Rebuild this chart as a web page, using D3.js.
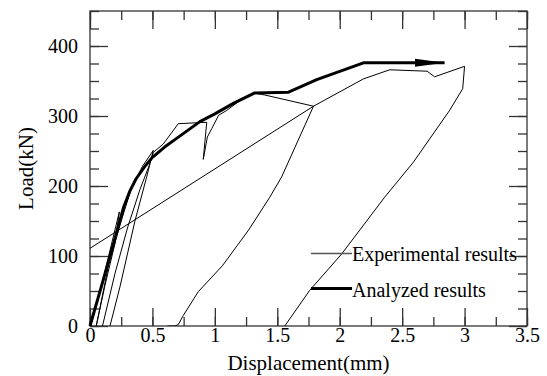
<!DOCTYPE html>
<html>
<head>
<meta charset="utf-8">
<script src="https://cdn.jsdelivr.net/npm/d3@7"></script>
<style>
  body { margin: 0; background: #fff; }
  svg text { font-family: "Liberation Serif", "Times New Roman", serif; fill: #000; }
</style>
</head>
<body>
<svg width="547" height="376"></svg>
<script>
// axis ticks
var xMajor = [0, 0.5, 1, 1.5, 2, 2.5, 3, 3.5];
var yMajor = [0, 100, 200, 300, 400];

// experimental results, split into the loading / unloading branches
var expLoop1 = [[0, 0], [0.08, 48], [0.16, 108], [0.235, 163], [0.2, 118], [0.12, 58], [0.05, 0]];
var expLoop2 = [[0.05, 0], [0.15, 88], [0.25, 150], [0.33, 196], [0.42, 228], [0.507, 251],
                [0.454, 213], [0.36, 150], [0.24, 56], [0.16, 0]];
var expLoop3 = [[0.1, 0], [0.2, 75], [0.3, 140], [0.4, 195], [0.48, 232], [0.507, 248],
                [0.587, 260], [0.707, 289], [0.935, 291], [0.907, 238], [0.94, 270],
                [0.975, 282], [1.03, 301], [1.095, 308], [1.2, 322], [1.31, 333], [1.4, 330],
                [1.79, 314], [1.535, 213], [1.44, 184], [1.27, 137], [1.06, 86], [0.867, 49],
                [0.747, 15], [0.707, 2], [0.68, 0], [0.62, 0]];
var expLine = [[0, 111], [1.79, 314]];
var expLoop4 = [[1.79, 314], [2.19, 353], [2.4, 366], [2.7, 364], [2.76, 356], [3.0, 371],
                [2.985, 339], [2.88, 308], [2.59, 234], [2.36, 184], [2.016, 103], [1.76, 51], [1.56, 0]];

// analyzed results
var analyzed = [[0, 0], [0.1, 62], [0.2, 125], [0.27, 170], [0.32, 193], [0.368, 210], [0.435, 227],
                [0.5, 241], [0.6, 256], [0.694, 268], [0.88, 292], [1.0, 303], [1.148, 318],
                [1.32, 333], [1.59, 334], [1.816, 352], [2.19, 376], [2.84, 376]];

var svg = d3.select('svg'),
    margin = {top: 11, left: 90, right: 20, bottom: 50},
    width = 437,
    height = 315;

var x = d3.scaleLinear().domain([0, 3.5]).range([margin.left, margin.left + width]);
var y = d3.scaleLinear().domain([0, 450]).range([margin.top + height, margin.top]);

var xMinor = d3.range(0, 3.51, 0.25);
var yMinor = d3.range(0, 451, 25);

svg.append('defs').append('clipPath').attr('id', 'clip')
  .append('rect')
  .attr('x', margin.left).attr('y', margin.top)
  .attr('width', width).attr('height', height);

svg.select('defs').append('marker')
  .attr('id', 'arrow')
  .attr('markerUnits', 'userSpaceOnUse')
  .attr('markerWidth', 32).attr('markerHeight', 10)
  .attr('refX', 30).attr('refY', 5)
  .attr('orient', 'auto')
  .append('path')
  .attr('d', 'M0,1 L30,5 L0,9 Z')
  .attr('fill', '#000');

// frame
svg.append('rect')
  .attr('x', margin.left).attr('y', margin.top)
  .attr('width', width).attr('height', height)
  .attr('fill', 'none').attr('stroke', '#333').attr('stroke-width', 1.3);

var fmt = d3.format('~g');

// [axis, tick values, tick length, show labels, label padding, position]
var axes = [
  [d3.axisBottom(x), xMinor, 9, false, 2, 'translate(0,' + (margin.top + height) + ')'],
  [d3.axisBottom(x), xMajor, 18, true, 2, 'translate(0,' + (margin.top + height) + ')'],
  [d3.axisTop(x), xMinor, 9, false, 2, 'translate(0,' + margin.top + ')'],
  [d3.axisTop(x), xMajor, 18, false, 2, 'translate(0,' + margin.top + ')'],
  [d3.axisLeft(y), yMinor, 9, false, 12, 'translate(' + margin.left + ',0)'],
  [d3.axisLeft(y), yMajor, 18, true, 12, 'translate(' + margin.left + ',0)'],
  [d3.axisRight(y), yMinor, 9, false, 12, 'translate(' + (margin.left + width) + ',0)'],
  [d3.axisRight(y), yMajor, 18, false, 12, 'translate(' + (margin.left + width) + ',0)']
];

axes.forEach(function(a) {
  var ax = a[0].tickValues(a[1]).tickSizeInner(-a[2]).tickSizeOuter(0)
    .tickPadding(a[4])
    .tickFormat(a[3] ? fmt : function() { return ''; });
  var g = svg.append('g').attr('transform', a[5]).call(ax)
    .attr('font-family', 'Liberation Serif').attr('font-size', 20);
  g.select('.domain').remove();
  g.selectAll('line').attr('stroke', '#333').attr('stroke-width', 1.3);
  g.selectAll('text')
    .attr('font-family', 'Liberation Serif')
    .style('font-family', 'Liberation Serif')
    .style('font-size', '20px').attr('fill', '#000');
});

var line = d3.line()
  .x(function(d) { return x(d[0]); })
  .y(function(d) { return y(d[1]); });

var plot = svg.append('g').attr('clip-path', 'url(#clip)');

[expLoop1, expLoop2, expLoop3, expLine, expLoop4].forEach(function(s) {
  plot.append('path')
    .attr('d', line(s))
    .attr('fill', 'none')
    .attr('stroke', '#000')
    .attr('stroke-width', 1)
    .attr('stroke-linejoin', 'round');
});

svg.append('path')
  .attr('d', line(analyzed))
  .attr('fill', 'none')
  .attr('stroke', '#000')
  .attr('stroke-width', 3)
  .attr('stroke-linejoin', 'round')
  .attr('marker-end', 'url(#arrow)');

// legend
var leg = svg.append('g');
leg.append('line').attr('x1', 311).attr('x2', 352).attr('y1', 253.5).attr('y2', 253.5)
  .attr('stroke', '#555').attr('stroke-width', 1.3);
leg.append('text').attr('x', 352).attr('y', 261).style('font-size', '20px').text('Experimental results');
leg.append('line').attr('x1', 311).attr('x2', 352).attr('y1', 288.5).attr('y2', 288.5)
  .attr('stroke', '#000').attr('stroke-width', 3);
leg.append('text').attr('x', 352).attr('y', 296.5).style('font-size', '20px').text('Analyzed results');

// axis titles
svg.append('text')
  .attr('x', margin.left + width / 2).attr('y', 370)
  .attr('text-anchor', 'middle')
  .style('font-size', '21px')
  .text('Displacement(mm)');

svg.append('text')
  .attr('transform', 'translate(33,' + (margin.top + height / 2) + ') rotate(-90)')
  .attr('text-anchor', 'middle')
  .style('font-size', '21px')
  .text('Load(kN)');
</script>
</body>
</html>
